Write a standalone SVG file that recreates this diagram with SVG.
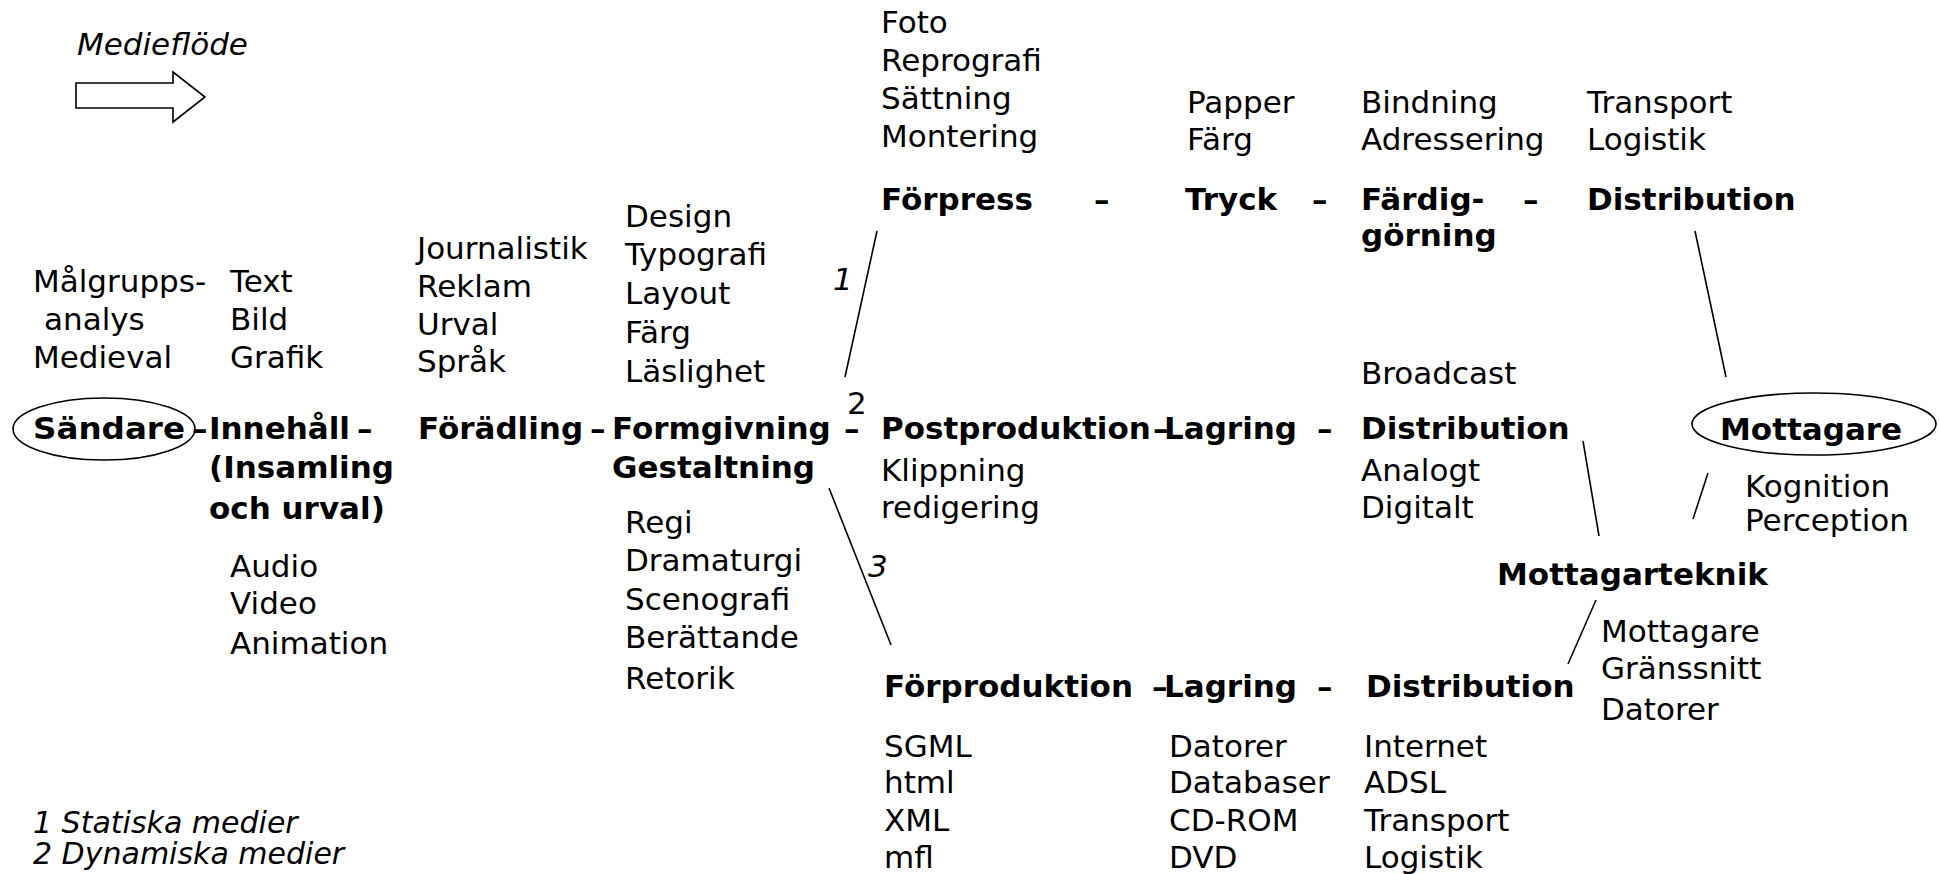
<svg xmlns="http://www.w3.org/2000/svg" width="1939" height="874" viewBox="0 0 1939 874">
<style>
text{font-family:"DejaVu Sans","Liberation Sans",sans-serif;font-size:31px;fill:#000}
.b{font-weight:bold}
.i{font-style:italic}
.lg{font-size:30px}
.ln{stroke:#000;stroke-width:1.6;fill:none}
.sh{stroke:#000;stroke-width:1.6;fill:none}
</style>
<rect width="1939" height="874" fill="#fff"/>
<g id="legend-flow">
<text class="i" x="77" y="55">Medieflöde</text>
<polygon class="sh" points="76,83 173,83 173,72 205,97 173,122 173,108 76,108"/>
</g>
<g id="sandare">
<ellipse class="sh" cx="104" cy="429" rx="91" ry="31"/>
<text class="b" x="33" y="439" textLength="152" lengthAdjust="spacingAndGlyphs">Sändare</text>
<text x="33" y="292">Målgrupps-</text>
<text x="44" y="330">analys</text>
<text x="33" y="368">Medieval</text>
</g>
<g id="innehall">
<text class="b" x="192" y="439">–</text>
<text class="b" x="209" y="439">Innehåll</text>
<text class="b" x="209" y="478">(Insamling</text>
<text class="b" x="209" y="519">och urval)</text>
<text x="230" y="292">Text</text>
<text x="230" y="330">Bild</text>
<text x="230" y="368">Grafik</text>
<text x="230" y="577">Audio</text>
<text x="230" y="614">Video</text>
<text x="230" y="654">Animation</text>
</g>
<g id="foradling">
<text class="b" x="357" y="439">–</text>
<text class="b" x="418" y="439">Förädling</text>
<text x="417" y="259">Journalistik</text>
<text x="417" y="297">Reklam</text>
<text x="417" y="335">Urval</text>
<text x="417" y="372">Språk</text>
</g>
<g id="formgivning">
<text class="b" x="590" y="439">–</text>
<text class="b" x="612" y="439">Formgivning</text>
<text class="b" x="612" y="478">Gestaltning</text>
<text class="b" x="844" y="439">–</text>
<text x="625" y="227">Design</text>
<text x="625" y="265">Typografi</text>
<text x="625" y="304">Layout</text>
<text x="625" y="343">Färg</text>
<text x="625" y="382">Läslighet</text>
<text x="625" y="533">Regi</text>
<text x="625" y="571">Dramaturgi</text>
<text x="625" y="610">Scenografi</text>
<text x="625" y="648">Berättande</text>
<text x="625" y="689">Retorik</text>
</g>
<g id="labels-123">
<text class="i" x="833" y="290">1</text>
<text x="847" y="414">2</text>
<text class="i" x="868" y="577">3</text>
</g>
<g id="forpress">
<text x="881" y="33">Foto</text>
<text x="881" y="71">Reprografi</text>
<text x="881" y="109">Sättning</text>
<text x="881" y="147">Montering</text>
<text class="b" x="881" y="210">Förpress</text>
<text class="b" x="1094" y="210">–</text>
</g>
<g id="tryck">
<text x="1187" y="113">Papper</text>
<text x="1187" y="150">Färg</text>
<text class="b" x="1185" y="210">Tryck</text>
<text class="b" x="1312" y="210">–</text>
</g>
<g id="fardiggorning">
<text x="1361" y="113">Bindning</text>
<text x="1361" y="150">Adressering</text>
<text class="b" x="1361" y="210">Färdig-</text>
<text class="b" x="1361" y="246">görning</text>
<text class="b" x="1523" y="210">–</text>
</g>
<g id="distribution-print">
<text x="1587" y="113">Transport</text>
<text x="1587" y="150">Logistik</text>
<text class="b" x="1587" y="210">Distribution</text>
</g>
<g id="postproduktion">
<text class="b" x="881" y="439">Postproduktion</text>
<text x="881" y="481">Klippning</text>
<text x="881" y="518">redigering</text>
<text class="b" x="1153" y="439">–</text>
</g>
<g id="lagring-mid">
<text class="b" x="1164" y="439">Lagring</text>
<text class="b" x="1317" y="439">–</text>
</g>
<g id="distribution-broadcast">
<text x="1361" y="384">Broadcast</text>
<text class="b" x="1361" y="439">Distribution</text>
<text x="1361" y="481">Analogt</text>
<text x="1361" y="518">Digitalt</text>
</g>
<g id="mottagare">
<ellipse class="sh" cx="1814" cy="424" rx="122" ry="31"/>
<text class="b" x="1720" y="440">Mottagare</text>
<text x="1745" y="497">Kognition</text>
<text x="1745" y="531">Perception</text>
</g>
<g id="mottagarteknik">
<text class="b" x="1497" y="585">Mottagarteknik</text>
<text x="1601" y="642">Mottagare</text>
<text x="1601" y="679">Gränssnitt</text>
<text x="1601" y="720">Datorer</text>
</g>
<g id="forproduktion">
<text class="b" x="884" y="697">Förproduktion</text>
<text class="b" x="1152" y="697">–</text>
<text x="884" y="757">SGML</text>
<text x="884" y="793">html</text>
<text x="884" y="831">XML</text>
<text x="884" y="868">mfl</text>
</g>
<g id="lagring-bottom">
<text class="b" x="1164" y="697">Lagring</text>
<text class="b" x="1317" y="697">–</text>
<text x="1169" y="757">Datorer</text>
<text x="1169" y="793">Databaser</text>
<text x="1169" y="831">CD-ROM</text>
<text x="1169" y="868">DVD</text>
</g>
<g id="distribution-net">
<text class="b" x="1366" y="697">Distribution</text>
<text x="1364" y="757">Internet</text>
<text x="1364" y="793">ADSL</text>
<text x="1364" y="831">Transport</text>
<text x="1364" y="868">Logistik</text>
</g>
<g id="legend-media">
<text class="i lg" x="33" y="833">1 Statiska medier</text>
<text class="i lg" x="33" y="864">2 Dynamiska medier</text>
</g>
<g id="connectors">
<line class="ln" x1="845" y1="377" x2="877" y2="231"/>
<line class="ln" x1="829" y1="488" x2="891" y2="645"/>
<line class="ln" x1="1695" y1="231" x2="1726" y2="377"/>
<line class="ln" x1="1583" y1="441" x2="1599" y2="536"/>
<line class="ln" x1="1708" y1="473" x2="1693" y2="519"/>
<line class="ln" x1="1596" y1="600" x2="1568" y2="664"/>
</g>
</svg>
